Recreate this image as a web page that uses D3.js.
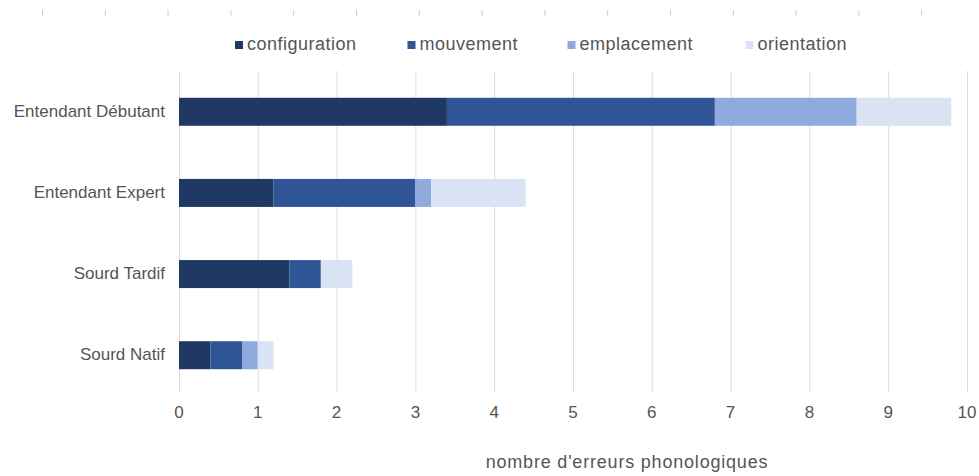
<!DOCTYPE html>
<html lang="fr">
<head>
<meta charset="UTF-8">
<script src="https://d3js.org/d3.v7.min.js"></script>
<style>
  body { margin: 0; background: #fff; font-family: "Liberation Sans", Arial, sans-serif; }
  svg text { fill: #555; }
</style>
</head>
<body>
<script>
// groups, top to bottom
const groups = ["Entendant Débutant", "Entendant Expert", "Sourd Tardif", "Sourd Natif"];
const series = ["configuration", "mouvement", "emplacement", "orientation"];
const configuration = [3.4, 1.2, 1.4, 0.4];
const mouvement     = [3.4, 1.8, 0.4, 0.4];
const emplacement   = [1.8, 0.2, 0.0, 0.2];
const orientation   = [1.2, 1.2, 0.4, 0.2];
const xTicks = [0, 1, 2, 3, 4, 5, 6, 7, 8, 9, 10];
const colors = ["#203864", "#2f5597", "#8faadc", "#dae3f3"];

const W = 979, H = 476;
const svg = d3.select("body").append("svg").attr("width", W).attr("height", H);

// faint ruler ticks at the very top
svg.append("g").selectAll("line")
  .data(d3.range(15))
  .join("line")
  .attr("x1", i => 42.5 + i * 62.8).attr("x2", i => 42.5 + i * 62.8)
  .attr("y1", 10).attr("y2", 16)
  .attr("stroke", "#ccc").attr("stroke-width", 1);

const x = d3.scaleLinear().domain([0, 10]).range([179, 967]);
const y = d3.scaleBand().domain(groups).range([71, 396]).paddingInner(0.655).paddingOuter(0.33);

// gridlines
svg.append("g").selectAll("line")
  .data(xTicks)
  .join("line")
  .attr("x1", d => x(d) + 0.5).attr("x2", d => x(d) + 0.5)
  .attr("y1", 71).attr("y2", 392)
  .attr("stroke", "#dcdcdc");

// stacked bars
const rows = groups.map((g, i) => ({
  group: g, configuration: configuration[i], mouvement: mouvement[i],
  emplacement: emplacement[i], orientation: orientation[i]
}));
const stack = d3.stack().keys(series)(rows);

svg.append("g").selectAll("g")
  .data(stack)
  .join("g")
  .attr("fill", (d, i) => colors[i])
  .selectAll("rect")
  .data(d => d)
  .join("rect")
  .attr("x", d => x(d[0]))
  .attr("width", d => x(d[1]) - x(d[0]))
  .attr("y", d => y(d.data.group))
  .attr("height", y.bandwidth());

// category labels
svg.append("g").selectAll("text")
  .data(groups)
  .join("text")
  .attr("x", 165)
  .attr("y", d => y(d) + y.bandwidth() / 2)
  .attr("dy", "0.3em")
  .attr("text-anchor", "end")
  .style("font-size", "17px")
  .text(d => d);

// x tick labels
svg.append("g").selectAll("text")
  .data(xTicks)
  .join("text")
  .attr("x", d => x(d))
  .attr("y", 418)
  .attr("text-anchor", "middle")
  .style("font-size", "17px")
  .text(d => d);

// axis title
svg.append("text")
  .attr("x", 627).attr("y", 468)
  .attr("text-anchor", "middle")
  .style("font-size", "18px")
  .style("letter-spacing", "0.8px")
  .text("nombre d'erreurs phonologiques");

// legend
const legendX = [235, 407.5, 567.5, 745.5];
const lg = svg.append("g").selectAll("g")
  .data(series)
  .join("g")
  .attr("transform", (d, i) => `translate(${legendX[i]},44)`);
lg.append("rect").attr("x", 0).attr("y", -3).attr("width", 8).attr("height", 8)
  .attr("fill", (d, i) => colors[i]);
lg.append("text").attr("x", 12).attr("y", 6)
  .style("font-size", "18px")
  .style("letter-spacing", "0.5px")
  .text(d => d);
</script>
</body>
</html>
